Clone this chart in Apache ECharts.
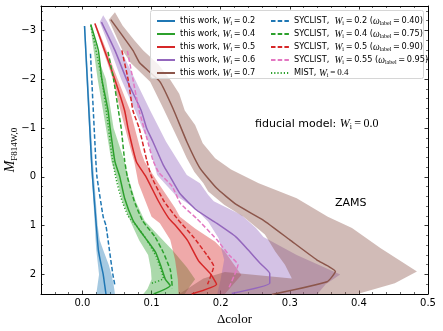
<!DOCTYPE html>
<html>
<head>
<meta charset="utf-8">
<script src="https://cdn.jsdelivr.net/npm/echarts@6.0.0/dist/echarts.min.js"></script>
<style>
  html, body { margin: 0; padding: 0; background: #fff; }
  #chart { width: 443px; height: 331px; }
</style>
</head>
<body>
<div id="chart"></div>
<script>
// every curve / band edge is a list of [delta color, M_F814W,0]

// W_i = 0.2
const twW02 = [[0.003,-3.09],[0.008,-1.7],[0.013,-0.34],[0.0145,0],[0.020,1.0],[0.023,1.5],[0.027,1.8],[0.030,2.0],[0.032,2.2],[0.033,2.3],[0.034,2.4]]
const bandW02Lo = [[0.002,-3.09],[0.012,-0.34],[0.018,1.0],[0.019,1.3],[0.020,1.5],[0.024,2.0],[0.022,2.2],[0.020,2.4]]
const bandW02Hi = [[0.004,-3.09],[0.015,-0.34],[0.022,1.0],[0.025,1.3],[0.030,1.5],[0.038,1.8],[0.042,2.0],[0.045,2.2],[0.047,2.4]]
const sycW02 = [[0.0116,-2.52],[0.0193,-0.34],[0.021,0],[0.030,0.82],[0.034,1.0],[0.039,1.5],[0.044,2.0],[0.047,2.23]]

// W_i = 0.4
const twW04 = [[0.012,-3.12],[0.023,-2.59],[0.028,-2.0],[0.037,-1.36],[0.040,-1.0],[0.047,-0.31],[0.054,0],[0.061,0.44],[0.073,0.89],[0.083,1.1],[0.093,1.29],[0.106,1.55],[0.114,1.85],[0.120,2.1],[0.127,2.23],[0.103,2.4]]
const bandW04Lo = [[0.011,-3.12],[0.022,-2.0],[0.034,-1.0],[0.042,-0.31],[0.049,0],[0.058,0.5],[0.069,0.9],[0.082,1.3],[0.095,1.6],[0.099,1.9],[0.100,2.1],[0.094,2.3],[0.088,2.4]]
const bandW04Hi = [[0.013,-3.12],[0.026,-2.3],[0.034,-2.0],[0.045,-1.0],[0.061,-0.31],[0.066,0],[0.077,0.5],[0.090,0.9],[0.110,1.2],[0.130,1.5],[0.151,1.85],[0.163,2.1],[0.155,2.25],[0.148,2.4]]
const sycW04 = [[0.037,-2.56],[0.045,-2.0],[0.052,-1.36],[0.056,-1.0],[0.061,-0.34],[0.065,0],[0.075,0.5],[0.087,0.9],[0.105,1.23],[0.117,1.55],[0.127,1.9],[0.129,2.1],[0.130,2.28]]
const mistW04 = [[0.012,-3.1],[0.021,-2.5],[0.028,-2.0],[0.036,-1.2],[0.042,-0.5],[0.048,0],[0.056,0.44],[0.066,0.8],[0.078,1.0],[0.093,1.29],[0.107,1.64],[0.117,2.08],[0.100,2.18]]

// W_i = 0.5
const twW05 = [[0.018,-3.14],[0.032,-2.59],[0.047,-1.99],[0.061,-1.36],[0.066,-0.99],[0.078,-0.31],[0.092,0],[0.110,0.5],[0.125,0.85],[0.135,1.0],[0.152,1.3],[0.168,1.72],[0.185,1.98],[0.194,2.2],[0.158,2.4]]
const bandW05Lo = [[0.017,-3.14],[0.030,-2.59],[0.044,-2.0],[0.055,-1.36],[0.071,-0.5],[0.075,-0.31],[0.081,0.13],[0.100,0.82],[0.112,0.95],[0.127,1.29],[0.134,1.7],[0.138,2.1],[0.139,2.4]]
const bandW05Hi = [[0.019,-3.14],[0.035,-2.59],[0.051,-2.0],[0.069,-1.36],[0.085,-0.5],[0.090,-0.31],[0.110,0.13],[0.134,0.64],[0.141,0.82],[0.163,1.06],[0.192,1.33],[0.206,1.53],[0.230,2.01],[0.206,2.4]]
const sycW05 = [[0.057,-2.59],[0.066,-2.0],[0.073,-1.36],[0.082,-1.0],[0.093,-0.34],[0.100,0],[0.118,0.5],[0.138,0.87],[0.161,1.24],[0.180,1.6],[0.190,1.83],[0.181,2.2]]

// W_i = 0.6 (and SYCLIST 0.55)
const twW06 = [[0.0275,-3.17],[0.047,-2.59],[0.064,-1.99],[0.085,-1.36],[0.093,-0.99],[0.102,-0.72],[0.117,-0.24],[0.127,0],[0.141,0.34],[0.165,0.68],[0.194,0.95],[0.222,1.23],[0.240,1.5],[0.257,1.77],[0.271,1.98],[0.271,2.18],[0.216,2.39]]
const bandW06Lo = [[0.030,-3.31],[0.025,-3.17],[0.041,-2.59],[0.056,-2.0],[0.076,-1.36],[0.095,-0.72],[0.108,-0.04],[0.135,0.38],[0.163,0.65],[0.182,0.92],[0.197,1.26],[0.205,1.7],[0.200,2.1],[0.195,2.4]]
const bandW06Hi = [[0.030,-3.31],[0.036,-3.17],[0.056,-2.59],[0.076,-2.0],[0.098,-1.36],[0.121,-0.72],[0.151,-0.04],[0.170,0.13],[0.182,0.37],[0.190,0.5],[0.230,0.78],[0.251,1.05],[0.262,1.23],[0.310,1.6],[0.373,2.0],[0.352,2.2],[0.340,2.4]]
const sycW055 = [[0.065,-2.58],[0.073,-2.0],[0.082,-1.36],[0.093,-0.8],[0.102,-0.34],[0.110,-0.1],[0.130,0.2],[0.142,0.55],[0.165,0.85],[0.194,1.28],[0.212,1.6],[0.225,1.8],[0.212,2.27]]

// W_i = 0.7
const twW07 = [[0.041,-3.22],[0.073,-2.59],[0.083,-2.33],[0.112,-1.95],[0.131,-1.40],[0.151,-0.72],[0.170,-0.18],[0.194,0.23],[0.223,0.57],[0.262,0.89],[0.300,1.29],[0.339,1.70],[0.366,1.94],[0.354,2.15],[0.274,2.41]]
const bandW07Lo = [[0.047,-3.37],[0.038,-3.22],[0.058,-2.59],[0.070,-2.33],[0.098,-1.95],[0.117,-1.40],[0.140,-0.72],[0.151,-0.38],[0.162,-0.1],[0.175,0.13],[0.182,0.3],[0.205,0.57],[0.233,0.82],[0.264,1.18],[0.279,1.53],[0.293,1.80],[0.303,2.08],[0.206,1.95],[0.175,2.08],[0.140,2.4]]
const bandW07Hi = [[0.047,-3.37],[0.058,-3.1],[0.075,-2.8],[0.088,-2.59],[0.110,-2.3],[0.127,-1.99],[0.140,-1.7],[0.148,-1.36],[0.163,-1.06],[0.174,-0.69],[0.192,-0.38],[0.215,-0.15],[0.255,0.13],[0.310,0.44],[0.355,0.82],[0.390,1.05],[0.431,1.46],[0.484,1.94],[0.452,2.18],[0.398,2.4]]

const eq = '\u2009=\u2009'
const legendLabels = {
  tw02: '{t|this work, }{w|W}{s|i}{t|' + eq + '0.2}',
  tw04: '{t|this work, }{w|W}{s|i}{t|' + eq + '0.4}',
  tw05: '{t|this work, }{w|W}{s|i}{t|' + eq + '0.5}',
  tw06: '{t|this work, }{w|W}{s|i}{t|' + eq + '0.6}',
  tw07: '{t|this work, }{w|W}{s|i}{t|' + eq + '0.7}',
  sy02: '{t|SYCLIST,  }{w|W}{s|i}{t|' + eq + '0.2 (}{w|ω}{s|label}{t|' + eq + '0.40)}',
  sy04: '{t|SYCLIST,  }{w|W}{s|i}{t|' + eq + '0.4 (}{w|ω}{s|label}{t|' + eq + '0.75)}',
  sy05: '{t|SYCLIST,  }{w|W}{s|i}{t|' + eq + '0.5 (}{w|ω}{s|label}{t|' + eq + '0.90)}',
  sy055: '{t|SYCLIST,  }{w|W}{s|i}{t|' + eq + '0.55 (}{w|ω}{s|label}{t|' + eq + '0.95)}',
  mist04: '{t|MIST, }{w|W}{s|i}{m|' + eq + '0.4}'
}

const C = { w02: '#1f77b4', w04: '#2ca02c', w05: '#d62728', w06: '#9467bd', w07: '#8c564b', w055: '#e377c2' }

const richText = {
  t: { fontFamily: 'DejaVu Sans', fontSize: 8.2, color: '#000', lineHeight: 10 },
  w: { fontFamily: 'Liberation Serif', fontStyle: 'italic', fontSize: 9.5, color: '#000', lineHeight: 10 },
  s: { fontFamily: 'Liberation Serif', fontSize: 6, color: '#000', padding: [4, 0, 0, 0] },
  m: { fontFamily: 'Liberation Serif', fontSize: 9, color: '#000', lineHeight: 10 }
}

function band (lo, hi, color) {
  const pts = lo.concat(hi.slice().reverse())
  return {
    type: 'custom',
    data: pts,
    encode: { x: 0, y: 1 },
    silent: true,
    z: 1,
    renderItem: function (params, api) {
      if (params.dataIndex !== 0) return null
      return {
        type: 'polygon',
        shape: { points: pts.map(function (p) { return api.coord(p) }) },
        style: { fill: color, opacity: 0.4 }
      }
    }
  }
}

function curve (name, data, color, dash) {
  return {
    name: name,
    type: 'line',
    data: data,
    symbol: 'none',
    silent: true,
    smooth: 0.15,
    z: 3,
    itemStyle: { color: color },
    lineStyle: { color: color, width: 1.5, type: dash || 'solid' }
  }
}

const axisBase = {
  type: 'value',
  axisLine: { show: true, onZero: false, lineStyle: { color: '#000', width: 1 } },
  axisTick: { show: true, inside: true, length: 3.5, lineStyle: { color: '#000', width: 0.8 } },
  minorTick: { show: true, splitNumber: 5, length: 2, lineStyle: { color: '#000', width: 0.6 } },
  splitLine: { show: false },
  minorSplitLine: { show: false }
}

const dashed = [4.5, 2.2]
const dotted = [1.2, 2]

const legendBase = {
  orient: 'vertical', top: 11, itemWidth: 18, itemHeight: 8, itemGap: 3,
  selectedMode: false, z: 5,
  itemStyle: { opacity: 0 },
  formatter: function (n) { return legendLabels[n] },
  textStyle: { rich: richText }
}

const option = {
  animation: false,
  backgroundColor: '#fff',
  grid: { left: 41, right: 15, top: 6, bottom: 37, outerBoundsMode: 'none', containLabel: false },
  xAxis: [
    Object.assign({}, axisBase, {
      position: 'bottom', min: -0.06, max: 0.5,
      axisLabel: { show: true, showMinLabel: false, margin: 4, fontFamily: 'DejaVu Sans', fontSize: 10, color: '#000',
        formatter: function (v) { return v.toFixed(1) } },
      name: 'Δcolor', nameLocation: 'middle', nameGap: 19, nameMoveOverlap: false,
      nameTextStyle: { fontFamily: 'Liberation Serif', fontSize: 13, color: '#000' }
    }),
    Object.assign({}, axisBase, {
      position: 'top', min: -0.06, max: 0.5, axisLabel: { show: false }
    })
  ],
  yAxis: [
    Object.assign({}, axisBase, {
      position: 'left', inverse: true, min: -3.5, max: 2.4,
      axisLabel: { show: true, showMinLabel: false, showMaxLabel: false, margin: 5, fontFamily: 'DejaVu Sans', fontSize: 10, color: '#000',
        formatter: function (v) { return v < 0 ? '\u2212' + Math.abs(v) : String(v) } },
      name: '{m|M}{s|F814W,0}', nameLocation: 'middle', nameGap: 22, nameRotate: 90, nameMoveOverlap: false,
      nameTextStyle: { rich: {
        m: { fontFamily: 'Liberation Serif', fontStyle: 'italic', fontSize: 14, color: '#000' },
        s: { fontFamily: 'Liberation Serif', fontSize: 9, color: '#000', padding: [8, 0, 0, 0] }
      } }
    }),
    Object.assign({}, axisBase, {
      position: 'right', inverse: true, min: -3.5, max: 2.4, axisLabel: { show: false }
    })
  ],
  legend: [
    Object.assign({}, legendBase, { data: ['tw02', 'tw04', 'tw05', 'tw06', 'tw07'], left: 151 }),
    Object.assign({}, legendBase, { data: ['sy02', 'sy04', 'sy05', 'sy055', 'mist04'], left: 265 })
  ],
  graphic: [
    { type: 'rect', left: 150, top: 10, z: 4, shape: { width: 273, height: 68, r: 2 },
      style: { fill: 'rgba(255,255,255,0.8)', stroke: '#d6d6d6', lineWidth: 1 } },
    { type: 'text', left: 255, top: 118, z: 5,
      style: { text: '{t|fiducial model: }{w|W}{s|i}{m|' + eq + '0.0}', rich: {
        t: { fontFamily: 'DejaVu Sans', fontSize: 11, fill: '#000' },
        w: { fontFamily: 'Liberation Serif', fontStyle: 'italic', fontSize: 12, fill: '#000' },
        s: { fontFamily: 'Liberation Serif', fontSize: 8, fill: '#000', padding: [5, 0, 0, 0] },
        m: { fontFamily: 'Liberation Serif', fontSize: 12, fill: '#000' }
      } } },
    { type: 'text', left: 335, top: 198, z: 5,
      style: { text: 'ZAMS', font: '11px "DejaVu Sans"', fill: '#000' } }
  ],
  series: [
    band(bandW02Lo, bandW02Hi, C.w02),
    band(bandW04Lo, bandW04Hi, C.w04),
    band(bandW05Lo, bandW05Hi, C.w05),
    band(bandW06Lo, bandW06Hi, C.w06),
    band(bandW07Lo, bandW07Hi, C.w07),
    curve('tw02', twW02, C.w02),
    curve('tw04', twW04, C.w04),
    curve('tw05', twW05, C.w05),
    curve('tw06', twW06, C.w06),
    curve('tw07', twW07, C.w07),
    curve('sy02', sycW02, C.w02, dashed),
    curve('sy04', sycW04, C.w04, dashed),
    curve('sy05', sycW05, C.w05, dashed),
    curve('sy055', sycW055, C.w055, dashed),
    curve('mist04', mistW04, C.w04, dotted)
  ]
}

echarts.init(document.getElementById('chart')).setOption(option)
</script>
</body>
</html>
